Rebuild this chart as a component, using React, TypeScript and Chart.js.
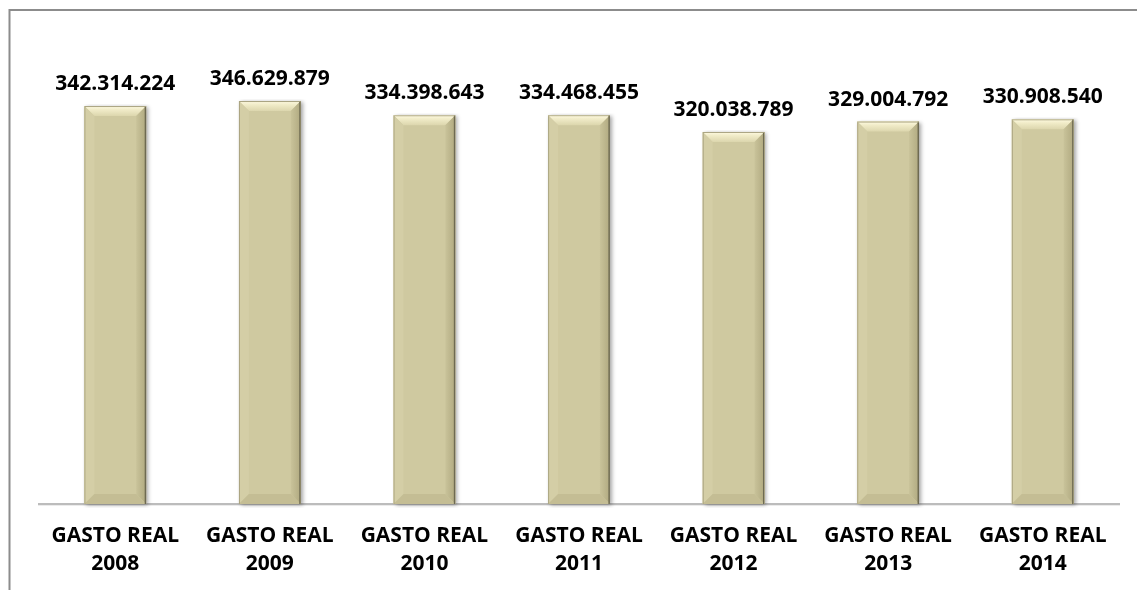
import React, { useEffect, useRef } from "react";
import { Chart, registerables } from "chart.js";

Chart.register(...registerables);

const categories: string[][] = [
  ["GASTO REAL", "2008"],
  ["GASTO REAL", "2009"],
  ["GASTO REAL", "2010"],
  ["GASTO REAL", "2011"],
  ["GASTO REAL", "2012"],
  ["GASTO REAL", "2013"],
  ["GASTO REAL", "2014"],
];
const gastoReal: number[] = [
  342314224, 346629879, 334398643, 334468455, 320038789, 329004792, 330908540,
];
const yMax = 400000000;

const FONT = "'Open Sans', 'Noto Sans', sans-serif";

function fmt(n: number): string {
  const s = Math.round(n).toString();
  return s.replace(/\B(?=(\d{3})+(?!\d))/g, ".");
}

const framePlugin = {
  id: "frame",
  beforeDraw(chart: any) {
    const ctx = chart.ctx;
    ctx.save();
    ctx.fillStyle = "#ffffff";
    ctx.fillRect(0, 0, chart.width, chart.height);
    ctx.strokeStyle = "#8c8c8c";
    ctx.lineWidth = 2;
    ctx.beginPath();
    ctx.moveTo(9.5, chart.height + 5);
    ctx.lineTo(9.5, 10);
    ctx.lineTo(chart.width + 5, 10);
    ctx.stroke();
    ctx.restore();
  },
  beforeDatasetsDraw(chart: any) {
    const ctx = chart.ctx;
    const xs = chart.scales.x;
    const ys = chart.scales.y;
    const x0 = xs.getPixelForValue(-0.5);
    const x1 = xs.getPixelForValue(categories.length - 0.5);
    const y0 = ys.getPixelForValue(0);
    ctx.save();
    ctx.strokeStyle = "#a6a6a6";
    ctx.lineWidth = 1.5;
    ctx.beginPath();
    ctx.moveTo(x0, y0);
    ctx.lineTo(x1, y0);
    ctx.stroke();
    ctx.strokeStyle = "rgba(0,0,0,0.08)";
    ctx.lineWidth = 1;
    ctx.beginPath();
    ctx.moveTo(x0, y0 + 1.5);
    ctx.lineTo(x1, y0 + 1.5);
    ctx.stroke();
    ctx.restore();
  },
};

function poly(ctx: CanvasRenderingContext2D, pts: number[][], fill: string | CanvasGradient) {
  ctx.beginPath();
  ctx.moveTo(pts[0][0], pts[0][1]);
  for (let i = 1; i < pts.length; i++) ctx.lineTo(pts[i][0], pts[i][1]);
  ctx.closePath();
  ctx.fillStyle = fill;
  ctx.fill();
}

const bevelPlugin = {
  id: "bevel",
  afterDatasetsDraw(chart: any) {
    const ctx: CanvasRenderingContext2D = chart.ctx;
    const meta = chart.getDatasetMeta(0);
    meta.data.forEach((bar: any, i: number) => {
      const p = bar.getProps(["x", "y", "base", "width"], true);
      const l = p.x - p.width / 2;
      const r = p.x + p.width / 2;
      const t = p.y;
      const b = p.base;
      const bv = 10;

      ctx.save();
      ctx.beginPath();
      ctx.rect(l - 2, t - 2, r - l + 9, b - t + 6);
      ctx.clip();
      ctx.shadowColor = "rgba(0,0,0,0.35)";
      ctx.shadowBlur = 4;
      ctx.shadowOffsetX = 2;
      ctx.shadowOffsetY = 1;
      ctx.fillStyle = "#cfc9a0";
      ctx.fillRect(l, t, r - l, b - t);
      ctx.restore();

      ctx.save();
      ctx.beginPath();
      ctx.rect(l, t, r - l, b - t);
      ctx.clip();
      const g = ctx.createLinearGradient(0, t, 0, t + bv);
      g.addColorStop(0, "#fffbe2");
      g.addColorStop(0.35, "#f1ecc9");
      g.addColorStop(1, "#dcd6ad");
      poly(ctx, [[l, t], [r, t], [r - bv, t + bv], [l + bv, t + bv]], g);
      poly(ctx, [[l, t], [l + bv, t + bv], [l + bv, b - bv], [l, b]], "#d4cea6");
      const gr = ctx.createLinearGradient(r - bv, 0, r, 0);
      gr.addColorStop(0, "#c9c39a");
      gr.addColorStop(1, "#b0a980");
      poly(ctx, [[r, t], [r, b], [r - bv, b - bv], [r - bv, t + bv]], gr);
      poly(ctx, [[l, b], [r, b], [r - bv, b - bv], [l + bv, b - bv]], "#c4bd94");
      ctx.lineWidth = 1.5;
      ctx.strokeStyle = "#6e6a52";
      ctx.beginPath();
      ctx.moveTo(r - 0.75, t);
      ctx.lineTo(r - 0.75, b);
      ctx.stroke();
      ctx.lineWidth = 1;
      ctx.strokeStyle = "#a9a380";
      ctx.beginPath();
      ctx.moveTo(l + 0.5, t + 1);
      ctx.lineTo(l + 0.5, b);
      ctx.moveTo(l, t + 0.5);
      ctx.lineTo(r, t + 0.5);
      ctx.stroke();
      ctx.restore();

      const v = chart.data.datasets[0].data[i] as number;
      ctx.save();
      ctx.fillStyle = "#000000";
      ctx.font = `bold 21px ${FONT}`;
      ctx.textAlign = "center";
      ctx.textBaseline = "middle";
      ctx.fillText(fmt(v), p.x, t - 22);
      ctx.restore();
    });
  },
};

export default function App() {
  const ref = useRef<HTMLCanvasElement | null>(null);
  useEffect(() => {
    document.body.style.margin = "0";
    if (!ref.current) return;
    const chart = new Chart(ref.current, {
      type: "bar",
      data: {
        labels: categories,
        datasets: [
          {
            label: "Gasto real",
            data: gastoReal,
            backgroundColor: "#cfc9a0",
            borderWidth: 0,
            barPercentage: 0.4,
            categoryPercentage: 1,
          },
        ],
      },
      options: {
        animation: false,
        responsive: false,
        devicePixelRatio: 1,
        layout: { padding: { left: 38, right: 17, top: 39, bottom: 0 } },
        plugins: {
          legend: { display: false },
          tooltip: { enabled: false },
          title: { display: false },
        },
        scales: {
          x: {
            grid: { display: false, drawTicks: false },
            border: { display: false },
            ticks: {
              color: "#000000",
              padding: 18.5,
              maxRotation: 0,
              autoSkip: false,
              font: { family: FONT, size: 21, weight: "bold", lineHeight: 28 / 21 },
            },
            afterFit(scale: any) {
              scale.height = 86;
            },
          },
          y: {
            display: false,
            min: 0,
            max: yMax,
          },
        },
      },
      plugins: [framePlugin, bevelPlugin],
    } as any);
    return () => chart.destroy();
  }, []);
  return <canvas ref={ref} width={1137} height={590} style={{ display: "block" }} />;
}
